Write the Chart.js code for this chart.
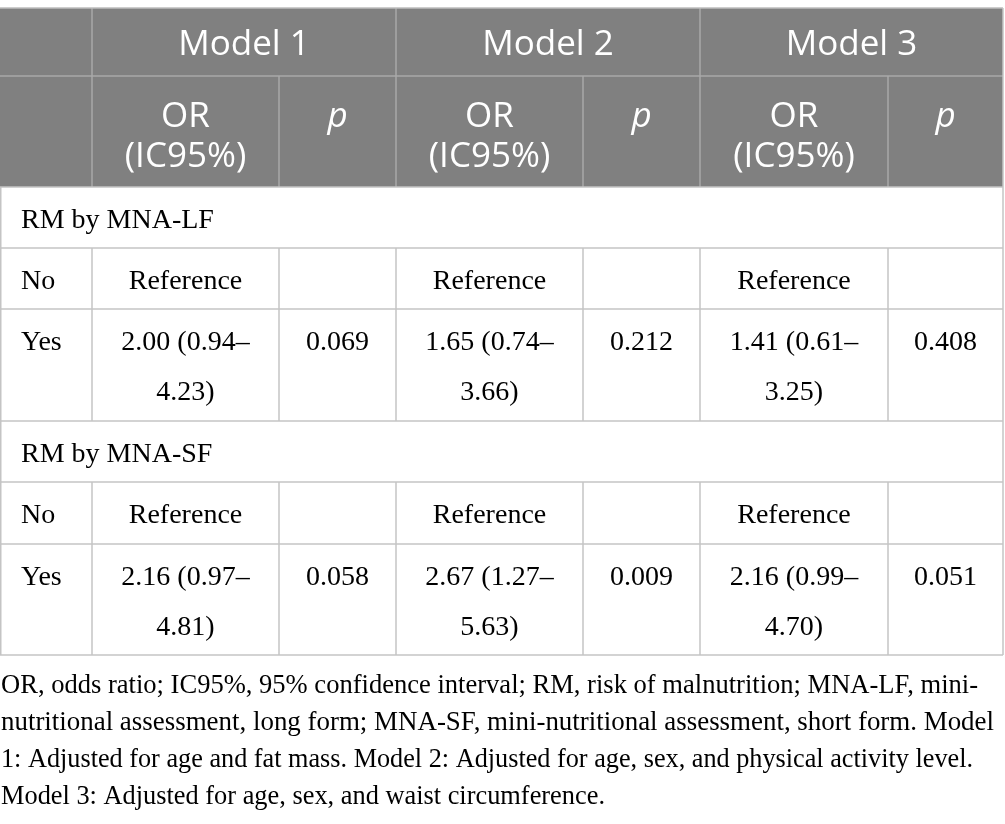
<!DOCTYPE html>
<html>
<head>
<meta charset="utf-8">
<script src="https://cdn.jsdelivr.net/npm/chart.js@4.4.0/dist/chart.umd.min.js"></script>
<style>
  html, body { margin: 0; padding: 0; background: #fff; }
  #wrap { width: 1005px; height: 824px; }
</style>
</head>
<body>
<div id="wrap"><canvas id="tbl" width="1005" height="824"></canvas></div>
<script>
// table content
const models = ['Model 1', 'Model 2', 'Model 3'];
const orHead = ['OR', '(IC95%)'];
const pHead = 'p';
const groups = ['RM by MNA-LF', 'RM by MNA-SF'];
const levels = ['No', 'Yes'];
const refLabel = 'Reference';

const orLF = [2.00, 1.65, 1.41];
const loLF = [0.94, 0.74, 0.61];
const hiLF = [4.23, 3.66, 3.25];
const pLF = [0.069, 0.212, 0.408];

const orSF = [2.16, 2.67, 2.16];
const loSF = [0.97, 1.27, 0.99];
const hiSF = [4.81, 5.63, 4.70];
const pSF = [0.058, 0.009, 0.051];

const footnote = [
  'OR, odds ratio; IC95%, 95% confidence interval; RM, risk of malnutrition; MNA-LF, mini-',
  'nutritional assessment, long form; MNA-SF, mini-nutritional assessment, short form. Model',
  '1: Adjusted for age and fat mass. Model 2: Adjusted for age, sex, and physical activity level.',
  'Model 3: Adjusted for age, sex, and waist circumference.'
];

// grid geometry (in scale units, 1 unit = 1px)
const colEdges = [0, 92, 279, 396, 583, 700, 888, 1003];
const rowEdges = [8, 76, 187, 248, 309, 421, 482, 544, 655];
const footBase = [693, 730, 767, 804];
const footWidth = [977, 993, 972, 604];

const headFont = '"Open Sans", sans-serif';
const bodyFont = '"Liberation Serif", "Times New Roman", serif';

const tablePlugin = {
  id: 'tablePlugin',
  afterDraw(chart) {
    const ctx = chart.ctx;
    const X = v => chart.scales.x.getPixelForValue(v);
    const Y = v => chart.scales.y.getPixelForValue(v);
    const c = colEdges, r = rowEdges;

    const hLine = (y, x0, x1, color) => {
      ctx.strokeStyle = color;
      ctx.lineWidth = 1.5;
      ctx.beginPath();
      ctx.moveTo(X(x0), Y(y));
      ctx.lineTo(X(x1), Y(y));
      ctx.stroke();
    };
    const vLine = (x, y0, y1, color) => {
      ctx.strokeStyle = color;
      ctx.lineWidth = 1.5;
      ctx.beginPath();
      ctx.moveTo(X(x), Y(y0));
      ctx.lineTo(X(x), Y(y1));
      ctx.stroke();
    };
    const text = (s, x, y, align) => {
      ctx.textAlign = align || 'center';
      ctx.fillText(s, X(x), Y(y));
    };
    const mid = i => (c[i] + c[i + 1]) / 2;

    ctx.save();
    // header background
    ctx.fillStyle = '#808080';
    ctx.fillRect(X(c[0]), Y(r[0]), X(c[7]) - X(c[0]), Y(r[2]) - Y(r[0]));

    // header grid
    const hc = '#a8a8a8';
    hLine(r[1], c[0], c[7], hc);
    [c[1], c[3], c[5]].forEach(x => vLine(x, r[0], r[1], hc));
    for (let i = 1; i < 7; i++) vLine(c[i], r[1], r[2], hc);

    // body grid
    const bc = '#c4c4c4';
    hLine(r[0], c[0], c[7], '#bdbdbd');
    for (let j = 2; j < r.length; j++) hLine(r[j], c[0], c[7], bc);
    vLine(c[0] + 0.75, r[2], r[8], bc);
    vLine(c[7], r[0], r[8], bc);
    [[r[3], r[5]], [r[6], r[8]]].forEach(([y0, y1]) => {
      for (let i = 1; i < 7; i++) vLine(c[i], y0, y1, bc);
    });

    // header text
    ctx.fillStyle = '#ffffff';
    ctx.textBaseline = 'alphabetic';
    ctx.font = '35px ' + headFont;
    models.forEach((m, k) => text(m, (c[1 + 2 * k] + c[3 + 2 * k]) / 2, r[0] + 47));
    models.forEach((m, k) => {
      ctx.font = '35px ' + headFont;
      text(orHead[0], mid(1 + 2 * k), r[1] + 51);
      text(orHead[1], mid(1 + 2 * k), r[1] + 91);
      ctx.font = 'italic 35px ' + headFont;
      text(pHead, mid(2 + 2 * k), r[1] + 51);
    });

    // body text
    ctx.fillStyle = '#000000';
    ctx.font = '28px ' + bodyFont;
    const blocks = [
      { top: 2, or: orLF, lo: loLF, hi: hiLF, p: pLF },
      { top: 5, or: orSF, lo: loSF, hi: hiSF, p: pSF }
    ];
    blocks.forEach((b, g) => {
      text(groups[g], 21, r[b.top] + 41, 'left');
      text(levels[0], 21, r[b.top + 1] + 41, 'left');
      text(levels[1], 21, r[b.top + 2] + 41, 'left');
      models.forEach((m, k) => {
        text(refLabel, mid(1 + 2 * k), r[b.top + 1] + 41);
        text(b.or[k].toFixed(2) + ' (' + b.lo[k].toFixed(2) + '\u2013', mid(1 + 2 * k), r[b.top + 2] + 41);
        text(b.hi[k].toFixed(2) + ')', mid(1 + 2 * k), r[b.top + 2] + 91);
        text(b.p[k].toFixed(3), mid(2 + 2 * k), r[b.top + 2] + 41);
      });
    });

    // footnote, stretched to the measured line widths
    ctx.font = '27px ' + bodyFont;
    ctx.textAlign = 'left';
    footnote.forEach((line, i) => {
      const w = ctx.measureText(line).width;
      ctx.save();
      ctx.translate(X(1), Y(footBase[i]));
      ctx.scale(footWidth[i] / w, 1);
      ctx.fillText(line, 0, 0);
      ctx.restore();
    });
    ctx.restore();
  }
};

new Chart(document.getElementById('tbl'), {
  type: 'scatter',
  data: { datasets: [{ data: [], pointRadius: 0 }] },
  options: {
    responsive: false,
    animation: false,
    devicePixelRatio: 1,
    layout: { padding: 0 },
    plugins: { legend: { display: false }, tooltip: { enabled: false } },
    scales: {
      x: { type: 'linear', min: 0, max: 1005, display: false },
      y: { type: 'linear', min: 0, max: 824, reverse: true, display: false }
    }
  },
  plugins: [tablePlugin]
});
</script>
</body>
</html>
